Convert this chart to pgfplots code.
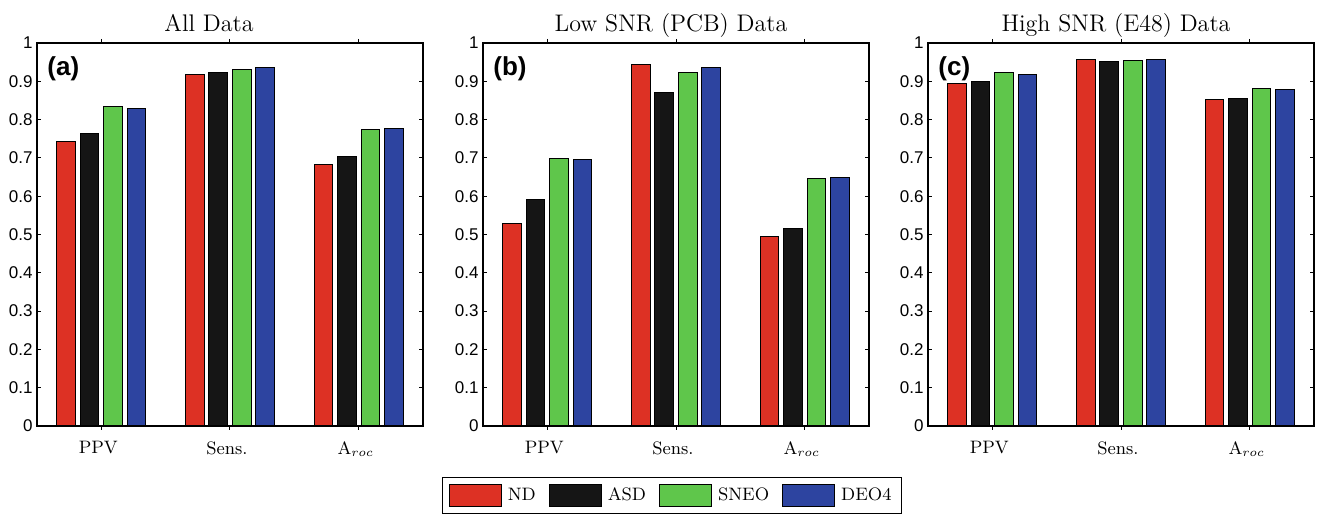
\documentclass[border=0pt]{standalone}
\usepackage{fontspec}
\usepackage{pgfplots}
\pgfplotsset{compat=1.18}
\newfontfamily\ticksans{Liberation Sans}

\definecolor{cND}{RGB}{221,49,36}
\definecolor{cASD}{RGB}{21,21,21}
\definecolor{cSNEO}{RGB}{95,198,75}
\definecolor{cDEO}{RGB}{45,68,160}

\tikzset{
  plabel/.style={anchor=north west, inner sep=0pt, font=\ticksans\bfseries\fontsize{13}{15}\selectfont},
}

\pgfplotsset{
  every axis title shift=0pt,
  panel/.style={
    scale only axis, width=193pt, height=191.5pt,
    anchor=south west,
    xmin=0.5, xmax=3.5, ymin=0, ymax=1,
    xtick={1,2,3},
    xticklabels={PPV,Sens.,$\mathrm{A}_{roc}$},
    ytick={0,0.1,0.2,0.3,0.4,0.5,0.6,0.7,0.8,0.9,1},
    yticklabels={0,0.1,0.2,0.3,0.4,0.5,0.6,0.7,0.8,0.9,1},
    tick align=inside, major tick length=2pt,
    every tick/.style={black, line width=0.5pt},
    axis line style={line width=0.6pt},
    ybar, bar width=0.145,
    yticklabel style={font=\ticksans\fontsize{8.5}{10}\selectfont, inner sep=2pt},
    xticklabel style={font=\fontsize{9}{11}\selectfont, yshift=-2.2pt, xshift=-1.5pt},
    title style={font=\fontsize{12}{14}\selectfont, anchor=base, yshift=5.5pt},
  },
  boxlegend/.style={legend image code/.code={\draw[##1] (0pt,-5.5pt) rectangle (26pt,5.5pt);}},
  sND/.style={fill=cND, draw=black, line width=0.5pt, bar shift=-0.273, boxlegend},
  sASD/.style={fill=cASD, draw=black, line width=0.5pt, bar shift=-0.091, boxlegend},
  sSNEO/.style={fill=cSNEO, draw=black, line width=0.5pt, bar shift=0.091, boxlegend},
  sDEO/.style={fill=cDEO, draw=black, line width=0.5pt, bar shift=0.273, boxlegend},
}

\begin{document}
\begin{tikzpicture}
\path[use as bounding box] (0,0) rectangle (659.5pt,257pt);

% (a) all recordings
\begin{axis}[panel, at={(18.5pt,44pt)}, title={All Data},
  title style={xshift=-10.5pt}]
  \addplot[sND]   coordinates {(1,0.742) (2,0.919) (3,0.682)};
  \addplot[sASD]  coordinates {(1,0.763) (2,0.922) (3,0.703)};
  \addplot[sSNEO] coordinates {(1,0.833) (2,0.931) (3,0.775)};
  \addplot[sDEO]  coordinates {(1,0.829) (2,0.937) (3,0.776)};
  \node[plabel] at (rel axis cs:0.026,0.965) {(a)};
\end{axis}

% (b) low SNR recordings
\begin{axis}[panel, at={(241.5pt,44pt)}, title={Low SNR (PCB) Data},
  title style={xshift=-2.5pt},
  legend columns=4,
  legend style={at={(0.49,-0.133)}, anchor=north, draw=black, line width=0.6pt,
    font=\fontsize{9}{11}\selectfont, inner xsep=3pt, inner ysep=3pt,
    /tikz/every odd column/.append style={column sep=1pt},
    /tikz/every even column/.append style={column sep=4.5pt}}]
  \addplot[sND]   coordinates {(1,0.528) (2,0.943) (3,0.496)};
  \addplot[sASD]  coordinates {(1,0.592) (2,0.871) (3,0.516)};
  \addplot[sSNEO] coordinates {(1,0.699) (2,0.923) (3,0.645)};
  \addplot[sDEO]  coordinates {(1,0.695) (2,0.935) (3,0.650)};
  \legend{ND,ASD,SNEO,DEO4}
  \node[plabel] at (rel axis cs:0.026,0.965) {(b)};
\end{axis}

% (c) high SNR recordings
\begin{axis}[panel, at={(464pt,44pt)}, title={High SNR (E48) Data},
  title style={xshift=-2.5pt}]
  \addplot[sND]   coordinates {(1,0.893) (2,0.957) (3,0.852)};
  \addplot[sASD]  coordinates {(1,0.900) (2,0.952) (3,0.855)};
  \addplot[sSNEO] coordinates {(1,0.924) (2,0.953) (3,0.880)};
  \addplot[sDEO]  coordinates {(1,0.917) (2,0.958) (3,0.878)};
  \node[plabel] at (rel axis cs:0.026,0.965) {(c)};
\end{axis}
\end{tikzpicture}
\end{document}
